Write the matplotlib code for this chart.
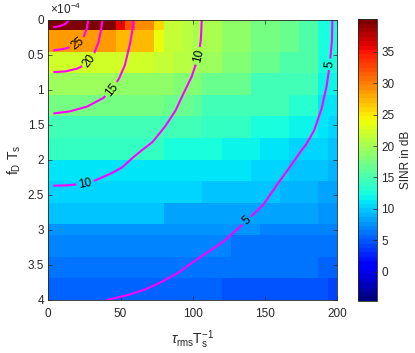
import numpy as np
import matplotlib
matplotlib.use("Agg")
import matplotlib.pyplot as plt

plt.rcParams["font.family"] = "Liberation Sans"
plt.rcParams["mathtext.fontset"] = "custom"
plt.rcParams["mathtext.rm"] = "Liberation Sans"
plt.rcParams["mathtext.it"] = "Liberation Sans:italic"

INK = "#262626"

# grid of the heat map (tau_rms / T_s along x, f_D * T_s in units of 1e-4 along y)
TAU_EDGES = np.linspace(0, 200, 31)
FD_EDGES = [0, 0.154, 0.46, 0.77, 1.08, 1.38, 1.69, 2.0, 2.31, 2.62, 2.92, 3.08, 3.38, 3.69, 4.0]

SINR_DB = [
    [39.6, 39.6, 39.6, 39.6, 39.6, 39.6, 39.6, 35.5, 32.0, 29.0, 29.0, 26.0, 21.6, 21.6, 21.0, 20.0, 20.0, 20.0, 18.6, 18.6, 18.6, 17.7, 17.7, 17.7, 16.7, 16.7, 15.3, 15.3, 12.8, 12.8],
    [28.3, 28.3, 28.3, 28.3, 28.3, 28.3, 28.3, 27.5, 27.5, 27.0, 27.0, 24.0, 21.3, 21.3, 20.8, 20.0, 20.0, 20.0, 18.6, 18.6, 18.6, 17.7, 17.7, 17.7, 16.7, 16.7, 15.3, 15.3, 12.8, 12.8],
    [22.5, 22.5, 22.5, 22.5, 22.5, 22.5, 22.5, 22.5, 22.5, 22.5, 22.5, 21.5, 21.5, 20.8, 20.8, 19.3, 19.3, 19.3, 17.9, 17.9, 17.9, 16.9, 16.9, 16.9, 15.3, 15.3, 15.3, 15.3, 12.5, 12.5],
    [19.5, 19.5, 19.5, 19.5, 19.5, 19.5, 19.5, 18.9, 18.9, 18.9, 18.9, 18.9, 18.9, 18.3, 18.3, 17.8, 16.4, 16.4, 16.4, 16.4, 16.4, 14.9, 14.9, 14.9, 14.9, 14.9, 14.9, 14.9, 11.5, 11.5],
    [17.1, 17.1, 17.1, 17.1, 17.1, 17.1, 17.1, 17.1, 17.1, 17.1, 17.1, 17.1, 16.4, 16.4, 16.4, 15.7, 14.3, 14.3, 14.3, 14.3, 14.3, 14.3, 14.3, 14.3, 14.3, 12.9, 12.9, 12.9, 10.8, 10.8],
    [14.9, 14.9, 14.9, 14.9, 14.9, 14.9, 14.9, 14.9, 14.9, 14.9, 14.9, 14.9, 14.3, 14.3, 14.3, 14.3, 13.6, 13.6, 13.6, 13.6, 13.6, 12.2, 12.2, 12.2, 12.2, 11.5, 11.5, 11.5, 10.8, 10.1],
    [13.6, 13.6, 13.6, 13.6, 13.6, 13.6, 13.6, 13.6, 13.6, 13.6, 13.6, 13.6, 12.2, 12.2, 12.2, 12.2, 12.2, 12.2, 11.5, 11.5, 11.5, 11.5, 10.8, 10.8, 10.8, 10.1, 10.1, 10.1, 10.1, 9.4],
    [11.2, 11.2, 11.2, 11.2, 11.2, 11.2, 11.2, 11.2, 11.2, 11.2, 11.2, 11.2, 10.8, 10.8, 10.8, 10.8, 10.8, 10.8, 10.8, 10.8, 10.8, 10.3, 10.3, 10.3, 10.3, 9.8, 9.8, 9.8, 9.4, 9.0],
    [10.1, 10.1, 10.1, 10.1, 10.1, 10.1, 10.1, 10.1, 10.1, 10.1, 10.1, 10.1, 10.1, 10.1, 10.1, 10.1, 9.4, 9.4, 9.4, 9.4, 9.4, 9.4, 9.4, 9.4, 8.9, 8.9, 8.9, 8.9, 8.2, 8.2],
    [9.4, 9.4, 9.4, 9.4, 9.4, 9.4, 9.4, 9.4, 9.4, 9.4, 9.4, 9.4, 8.5, 8.5, 8.5, 8.5, 8.5, 8.5, 8.5, 8.5, 8.5, 8.5, 8.5, 8.5, 8.5, 8.5, 8.5, 8.5, 7.7, 7.7],
    [7.6, 7.6, 7.6, 7.6, 7.6, 7.6, 7.6, 7.6, 7.6, 7.6, 7.6, 7.6, 7.6, 7.6, 7.6, 7.3, 7.3, 7.3, 7.3, 7.3, 7.3, 7.3, 7.0, 7.0, 7.0, 7.0, 7.0, 7.0, 7.0, 6.6],
    [7.2, 7.2, 7.2, 7.2, 7.2, 7.2, 7.2, 7.2, 7.2, 7.2, 7.2, 7.2, 6.8, 6.8, 6.8, 6.8, 6.8, 6.8, 6.8, 6.3, 6.3, 6.3, 6.3, 6.3, 6.3, 6.3, 6.3, 6.3, 5.9, 5.9],
    [6.5, 6.5, 6.5, 6.5, 6.5, 6.5, 6.5, 6.5, 6.5, 6.5, 6.5, 6.5, 6.5, 6.5, 6.5, 6.5, 6.5, 6.5, 6.5, 5.9, 5.9, 5.9, 5.9, 5.9, 5.9, 5.9, 5.9, 5.9, 5.2, 5.2],
    [5.6, 5.6, 5.6, 5.6, 5.6, 5.6, 5.6, 5.6, 5.6, 5.6, 5.6, 5.6, 5.6, 5.6, 5.6, 5.6, 5.6, 5.6, 4.9, 4.9, 4.9, 4.9, 4.9, 4.9, 4.9, 4.9, 4.9, 4.9, 4.9, 4.2],
]

# contour lines: (tau, fD) vertices, level, vertex indices carrying a label
CONTOUR_30 = [(3.5, 0.11), (8.0, 0.095), (12.0, 0.06), (14.5, 0.0)]
CONTOUR_25 = [(3.5, 0.44), (10.4, 0.42), (16.0, 0.39), (20.5, 0.35), (24.2, 0.26), (26.6, 0.13), (27.7, 0.0)]
CONTOUR_20 = [(3.5, 0.75), (12.0, 0.74), (20.0, 0.70), (25.0, 0.65), (28.5, 0.59), (32.0, 0.47),
              (34.6, 0.33), (36.5, 0.15), (37.5, 0.0)]
CONTOUR_15 = [(3.5, 1.34), (15.0, 1.31), (27.0, 1.24), (38.0, 1.12), (44.0, 1.0), (49.0, 0.84),
              (53.0, 0.65), (56.5, 0.35), (58.5, 0.12), (59.0, 0.0)]
CONTOUR_10 = [(3.5, 2.37), (13.0, 2.365), (25.5, 2.34), (33.0, 2.29), (44.0, 2.19), (51.0, 2.11),
              (58.5, 1.97), (65.0, 1.86), (72.0, 1.75), (81.0, 1.52), (88.0, 1.30), (93.0, 1.08),
              (99.3, 0.81), (104.0, 0.52), (105.6, 0.28), (106.2, 0.0)]
CONTOUR_5 = [(196.6, 0.0), (196.3, 0.3), (194.8, 0.64), (192.5, 0.96), (189.0, 1.28), (184.0, 1.58),
             (178.5, 1.78), (175.4, 1.86), (167.3, 2.1), (159.2, 2.33), (148.8, 2.64), (137.3, 2.87),
             (121.0, 3.17), (101.5, 3.44), (90.0, 3.61), (78.5, 3.74), (67.0, 3.85), (55.0, 3.93),
             (40.4, 4.0)]

CONTOURS = [
    (CONTOUR_30, 30, []),
    (CONTOUR_25, 25, [3]),
    (CONTOUR_20, 20, [4]),
    (CONTOUR_15, 15, [4]),
    (CONTOUR_10, 10, [2, 13]),
    (CONTOUR_5, 5, [2, 11]),
]


def draw_contour(ax, pts, level, label_idx):
    xy = np.array(pts, dtype=float)
    disp = ax.transData.transform(xy)
    s = np.r_[0, np.cumsum(np.hypot(*np.diff(disp, axis=0).T))]
    text = str(level)
    half = 3.3 * len(text) + 2.5
    pieces = []
    start = 0.0
    for i in sorted(label_idx):
        pieces.append((start, s[i] - half))
        start = s[i] + half
        j0, j1 = max(i - 1, 0), min(i + 1, len(xy) - 1)
        d = disp[j1] - disp[j0]
        ang = np.degrees(np.arctan2(d[1], d[0]))
        if ang > 90:
            ang -= 180
        elif ang <= -90:
            ang += 180
        ax.text(xy[i, 0], xy[i, 1], text, rotation=ang, rotation_mode="anchor",
                ha="center", va="center", fontsize=8.5, color="black")
    pieces.append((start, s[-1]))
    for a, b in pieces:
        if b <= a:
            continue
        grid = np.r_[a, s[(s > a) & (s < b)], b]
        ax.plot(np.interp(grid, s, xy[:, 0]), np.interp(grid, s, xy[:, 1]),
                color=(1, 0, 1), lw=1.5, solid_capstyle="butt")


def main():
    W, H = 415, 353
    fig = plt.figure(figsize=(W / 100, H / 100), dpi=100)
    ax = fig.add_axes([48.3 / W, 1 - 300 / H, (337.3 - 48.3) / W, (300 - 19.5) / H])

    cmap = plt.get_cmap("jet", 64)
    mesh = ax.pcolormesh(TAU_EDGES, FD_EDGES, np.array(SINR_DB), cmap=cmap,
                         vmin=-4.6, vmax=40.15, shading="flat", antialiased=False, linewidth=0)

    ax.set_xlim(0, 200)
    ax.set_ylim(4, 0)
    ax.set_xticks([0, 50, 100, 150, 200])
    ax.set_yticks([0, 0.5, 1, 1.5, 2, 2.5, 3, 3.5, 4])
    ax.set_yticklabels(["0", "0.5", "1", "1.5", "2", "2.5", "3", "3.5", "4"])
    ax.tick_params(direction="in", top=True, right=True, length=3, width=0.5,
                   colors=INK, labelsize=8.5)
    ax.tick_params(axis="x", pad=6)
    ax.tick_params(axis="y", pad=3)
    for sp in ax.spines.values():
        sp.set_color(INK)
        sp.set_linewidth(0.6)

    ax.set_xlabel(r"$\tau_{\mathrm{rms}}\mathrm{T_s^{-1}}$", fontsize=10, color=INK, labelpad=6)
    ax.set_ylabel(r"$\mathrm{f_D\ T_s}$", fontsize=10, color=INK, labelpad=3)
    ax.text(0.005, 1.008, r"$\times\mathrm{10^{-4}}$", transform=ax.transAxes,
            ha="left", va="bottom", fontsize=8.5, color=INK)

    for pts, level, idx in CONTOURS:
        draw_contour(ax, pts, level, idx)

    cax = fig.add_axes([357.7 / W, 1 - 300.7 / H, (377.3 - 357.7) / W, (300.7 - 19.3) / H])
    cb = fig.colorbar(mesh, cax=cax)
    cb.set_ticks(list(range(0, 36, 5)))
    cb.outline.set_edgecolor(INK)
    cb.outline.set_linewidth(0.6)
    cb.ax.tick_params(direction="in", length=3, width=0.5, colors=INK, labelsize=8.5, pad=3)
    cb.set_label("SINR in dB", fontsize=8.5, color=INK, labelpad=4)

    fig.savefig("out.png", dpi=100)
    plt.close(fig)


if __name__ == "__main__":
    main()
